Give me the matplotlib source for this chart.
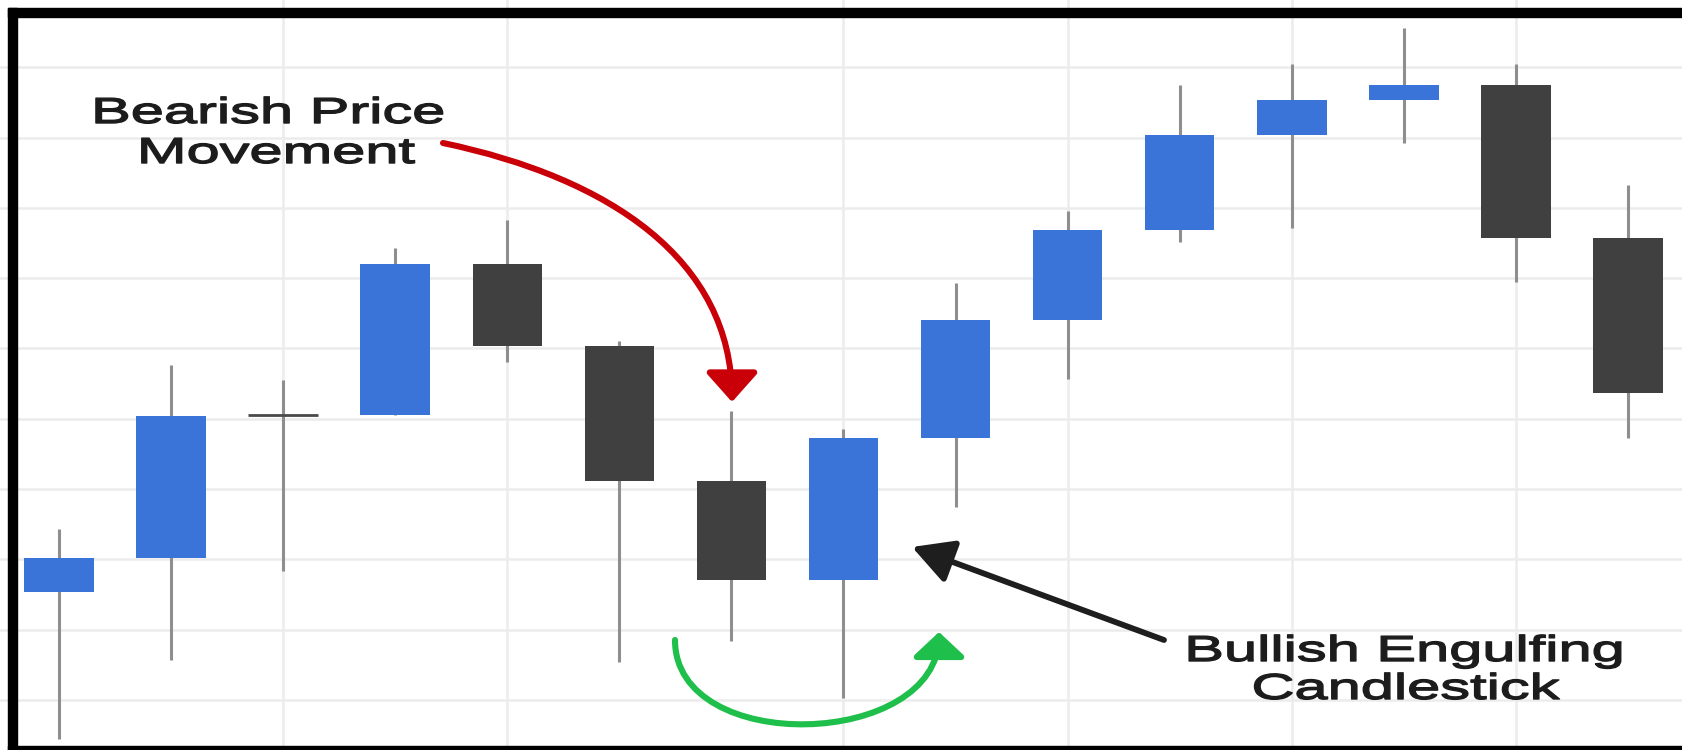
import matplotlib
matplotlib.use('Agg')
import matplotlib.pyplot as plt
import matplotlib.patheffects as pe
from matplotlib.patches import FancyArrowPatch, Rectangle
from matplotlib.path import Path
from matplotlib.transforms import Affine2D
import numpy as np

# candles
opens = [115.3, 120.2, 140.5, 140.5, 162.0, 150.3, 131.2, 117.1,
         137.3, 154.1, 166.8, 180.4, 185.4, 187.5, 165.7]
highs = [124.3, 147.7, 145.5, 164.3, 168.3, 151.0, 141.1, 138.5,
         159.3, 169.5, 187.5, 190.4, 195.6, 190.4, 173.2]
lows = [94.5, 105.7, 118.4, 140.5, 148.1, 105.4, 108.4, 100.3,
        127.4, 145.7, 165.2, 167.2, 179.3, 159.4, 137.3]
closes = [120.2, 140.4, 140.5, 162.0, 150.3, 131.2, 117.1, 137.3,
          154.1, 166.8, 180.4, 185.4, 187.5, 165.7, 143.6]

grid_prices = [100, 110, 120, 130, 140, 150, 160, 170, 180, 190]
grid_bars = [2, 4, 7, 9, 11, 13]

bear_label = ['Bearish Price', 'Movement']
bull_label = ['Bullish Engulfing', 'Candlestick']

col_up = '#3a74d9'
col_down = '#404040'
col_wick = '#8e8e8e'
col_grid = '#ececec'


class Stretch(pe.AbstractPathEffect):
    # widen the glyphs around a fixed x (the source picture was stretched)
    def __init__(self, sx, cx, lw=1.0):
        super().__init__()
        self.sx = sx
        self.cx = cx
        self.lw = lw

    def draw_path(self, renderer, gc, tpath, affine, rgbFace=None):
        aff = affine + Affine2D().translate(-self.cx, 0).scale(self.sx, 1).translate(self.cx, 0)
        gc0 = renderer.new_gc()
        gc0.copy_properties(gc)
        gc0.set_linewidth(self.lw)
        gc0.set_foreground(rgbFace)
        renderer.draw_path(gc0, tpath, aff, rgbFace)
        gc0.restore()


fig = plt.figure(figsize=(16.83, 7.5), dpi=100)
fig.patch.set_facecolor('white')

ax = fig.add_axes([0, 0, 1, 1])
ax.set_xlim(-0.5265, 14.491)
ax.set_ylim(92.89, 199.57)
ax.axis('off')

for p in grid_prices:
    ax.axhline(p, color=col_grid, lw=1.8, zorder=0)
for b in grid_bars:
    ax.axvline(b, color=col_grid, lw=1.8, zorder=0)

x = np.arange(len(opens))
o = np.array(opens)
c = np.array(closes)
colors = [col_up if cc > oo else col_down for oo, cc in zip(o, c)]

ax.vlines(x, lows, highs, color=col_wick, lw=2.2, zorder=1)
ax.bar(x, c - o, bottom=o, width=0.62, color=colors, zorder=2)
doji = np.isclose(o, c)
ax.hlines(o[doji], x[doji] - 0.31, x[doji] + 0.31, color='#4a4a4a', lw=2.0, zorder=2)

# overlay in picture pixels for the notes and the frame
ov = fig.add_axes([0, 0, 1, 1])
ov.set_xlim(0, 1683)
ov.set_ylim(750, 0)
ov.axis('off')
ov.patch.set_alpha(0)

# frame
ov.add_patch(Rectangle((8, 8), 1675, 8.5, color='black', zorder=10))
ov.add_patch(Rectangle((8, 8), 9, 742, color='black', zorder=10))
ov.add_patch(Rectangle((8, 745.5), 1675, 5, color='black', zorder=10))

# red curved arrow
red = Path([(443, 143), (610, 178), (732, 260), (732, 402)],
           [Path.MOVETO, Path.CURVE4, Path.CURVE4, Path.CURVE4])
ov.add_patch(FancyArrowPatch(path=red, arrowstyle='-|>,head_length=1.8,head_width=1.6',
                             mutation_scale=10, lw=4.4, color='#c90008', zorder=5))

# green u-turn arrow
green = Path([(675, 640), (675, 757), (939, 749), (939, 632)],
             [Path.MOVETO, Path.CURVE4, Path.CURVE4, Path.CURVE4])
ov.add_patch(FancyArrowPatch(path=green, arrowstyle='-|>,head_length=1.5,head_width=1.6',
                             mutation_scale=10, lw=4.4, color='#1fbf4b', zorder=5))

# black straight arrow
black = Path([(1164, 640), (912, 547)], [Path.MOVETO, Path.LINETO])
ov.add_patch(FancyArrowPatch(path=black, arrowstyle='-|>,head_length=2.5,head_width=1.35',
                             mutation_scale=10, lw=4.2, color='#1e1e1e', zorder=5))

# labels
txt = dict(family=['Liberation Sans', 'DejaVu Sans'], fontsize=26, color='#1c1c1c',
           ha='center', va='baseline', zorder=6)
for s, cx, by in zip(bear_label, [268, 276], [123, 163]):
    ov.text(cx, by, s, path_effects=[Stretch(1.65, cx)], **txt)
for s, cx, by in zip(bull_label, [1404, 1405], [661, 699]):
    ov.text(cx, by, s, path_effects=[Stretch(1.65, cx)], **txt)

fig.savefig('out.png', dpi=100, facecolor='white')
